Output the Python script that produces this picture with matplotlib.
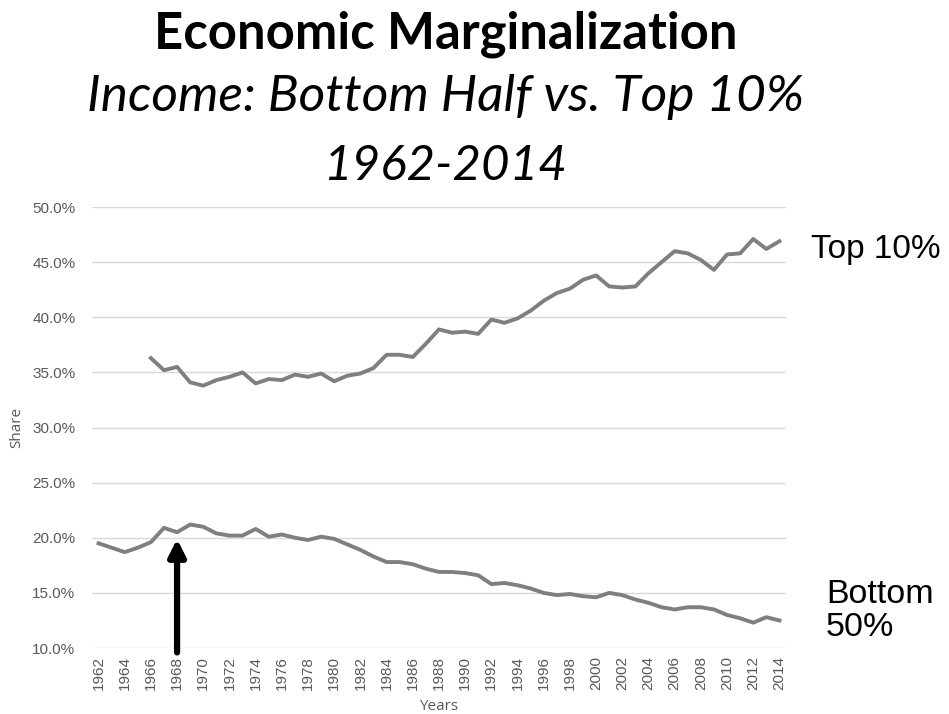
import numpy as np
import matplotlib.pyplot as plt
from matplotlib.ticker import FuncFormatter

# share of national income
years = list(range(1962, 2015))
top10 = [np.nan, np.nan, np.nan, np.nan,
         36.3, 35.2, 35.5, 34.1, 33.8, 34.3, 34.6, 35.0, 34.0, 34.4,
         34.3, 34.8, 34.6, 34.9, 34.2, 34.7, 34.9, 35.4, 36.6, 36.6,
         36.4, 37.6, 38.9, 38.6, 38.7, 38.5, 39.8, 39.5, 39.9, 40.6,
         41.5, 42.2, 42.6, 43.4, 43.8, 42.8, 42.7, 42.8, 44.0, 45.0,
         46.0, 45.8, 45.2, 44.3, 45.7, 45.8, 47.1, 46.2, 46.9]
bottom50 = [19.5, 19.1, 18.7, 19.1, 19.6, 20.9, 20.5, 21.2, 21.0, 20.4,
            20.2, 20.2, 20.8, 20.1, 20.3, 20.0, 19.8, 20.1, 19.9, 19.4,
            18.9, 18.3, 17.8, 17.8, 17.6, 17.2, 16.9, 16.9, 16.8, 16.6,
            15.8, 15.9, 15.7, 15.4, 15.0, 14.8, 14.9, 14.7, 14.6, 15.0,
            14.8, 14.4, 14.1, 13.7, 13.5, 13.7, 13.7, 13.5, 13.0, 12.7,
            12.3, 12.8, 12.5]
arrow_year = 1968

line_col = '#7f7f7f'
tick_col = '#595959'

fig = plt.figure(figsize=(9.49, 7.14), dpi=100)
ax = fig.add_axes([0.0969, 0.0924, 0.7313, 0.6176])

ax.plot(years, top10, color=line_col, lw=2.8, solid_joinstyle='round')
ax.plot(years, bottom50, color=line_col, lw=2.8, solid_joinstyle='round')

ax.set_xlim(1961.5, 2014.5)
ax.set_ylim(10, 50)
ax.set_yticks(np.arange(10, 51, 5))
ax.yaxis.set_major_formatter(FuncFormatter(lambda v, p: '%.1f%%' % v))
ax.set_xticks(years[::2])
ax.set_xticklabels([str(y) for y in years[::2]], rotation=90)
ax.grid(axis='y', color='#d9d9d9', lw=1)
ax.set_axisbelow(True)
for s in ax.spines.values():
    s.set_visible(False)
ax.tick_params(length=0, colors=tick_col, labelsize=11)
ax.tick_params(axis='y', pad=12)
ax.tick_params(axis='x', pad=6)
for lab in ax.get_xticklabels() + ax.get_yticklabels():
    lab.set_family('Liberation Sans')

ax.set_xlabel('Years', color=tick_col, fontsize=11, family='Open Sans', labelpad=6)
ax.set_ylabel('Share', color=tick_col, fontsize=11, family='Open Sans', labelpad=6)

# arrow pointing at 1968
ax.annotate('', xy=(arrow_year, 19.9), xytext=(arrow_year, 9.6),
            arrowprops=dict(arrowstyle='-|>,head_width=0.5,head_length=1.0',
                            color='black', lw=4.5, shrinkA=0, shrinkB=0),
            annotation_clip=False)

# series labels on the right
fig.text(811 / 949, 1 - 258 / 714, 'Top 10%', fontsize=24, family='Liberation Sans',
         ha='left', va='baseline')
fig.text(826 / 949, 1 - 636 / 714, 'Bottom\n50%', fontsize=24.5, family='Liberation Sans',
         ha='left', va='baseline', linespacing=1.1)

# title block
fig.text(0.47, 1 - 49 / 714, 'Economic Marginalization', fontsize=36.5, fontweight='bold',
         family='Lato', ha='center', va='baseline')
fig.text(0.47, 1 - 111 / 714, 'Income: Bottom Half vs. Top 10%', fontsize=37,
         style='italic', family='Lato', ha='center', va='baseline')
fig.text(0.47, 1 - 180 / 714, '1962-2014', fontsize=35.5, style='italic',
         family='Lato', ha='center', va='baseline')

fig.savefig('out.png', dpi=100)
